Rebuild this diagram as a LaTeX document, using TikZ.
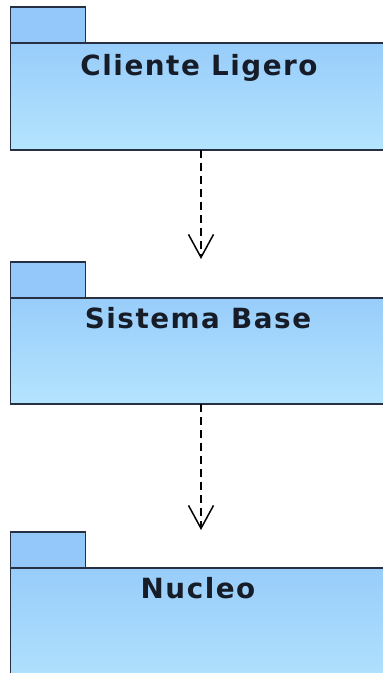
\documentclass[tikz,border=0pt]{standalone}
\usepackage{fontspec}
\newfontfamily\pkgfont[LetterSpace=5.5]{DejaVu Sans Bold}
\usetikzlibrary{arrows.meta}
\definecolor{tabblue}{RGB}{148,200,250}
\definecolor{bodytop}{RGB}{152,205,251}
\definecolor{bodybot}{RGB}{180,228,253}
\definecolor{edge}{RGB}{38,48,66}
\tikzset{
  tabbox/.style={draw=edge, line width=1.9pt, fill=tabblue, minimum width=75pt, minimum height=36pt, anchor=north west, inner sep=0pt, outer sep=0pt},
  bodybox/.style={draw=edge, line width=1.9pt, top color=bodytop, bottom color=bodybot, minimum width=400pt, anchor=north west, inner sep=0pt, outer sep=0pt},
  pkglabel/.style={font=\pkgfont\fontsize{27.8}{30}\selectfont, text=edge!60!black, anchor=base, inner sep=0pt},
  dep/.style={draw=black, line width=1.3pt, dash pattern=on 8pt off 5pt, -{Straight Barb[length=23pt,width=25pt,line width=1.5pt]}}
}
\begin{document}
\begin{tikzpicture}[x=1pt,y=-1pt]
\useasboundingbox (0,0) rectangle (383,673);
\clip (0,0) rectangle (383,673);
% package 1
\node[tabbox] (t1) at (10.5,7) {};
\node[bodybox, minimum height=107pt] (b1) at (10.5,43) {};
\node[pkglabel] (l1) at (199,75) {Cliente Ligero};
% package 2
\node[tabbox] (t2) at (10.5,262) {};
\node[bodybox, minimum height=106pt] (b2) at (10.5,298) {};
\node[pkglabel] (l2) at (198,328) {Sistema Base};
% package 3
\node[tabbox] (t3) at (10.5,532) {};
\node[bodybox, minimum height=130pt] (b3) at (10.5,568) {};
\node[pkglabel] (l3) at (198,598) {Nucleo};
% dependencies
\coordinate (h1) at (201,259);
\coordinate (h2) at (201,530);
\draw[dep] (b1.south -| h1) -- (h1);
\draw[dep] (b2.south -| h2) -- (h2);
\end{tikzpicture}
\end{document}
